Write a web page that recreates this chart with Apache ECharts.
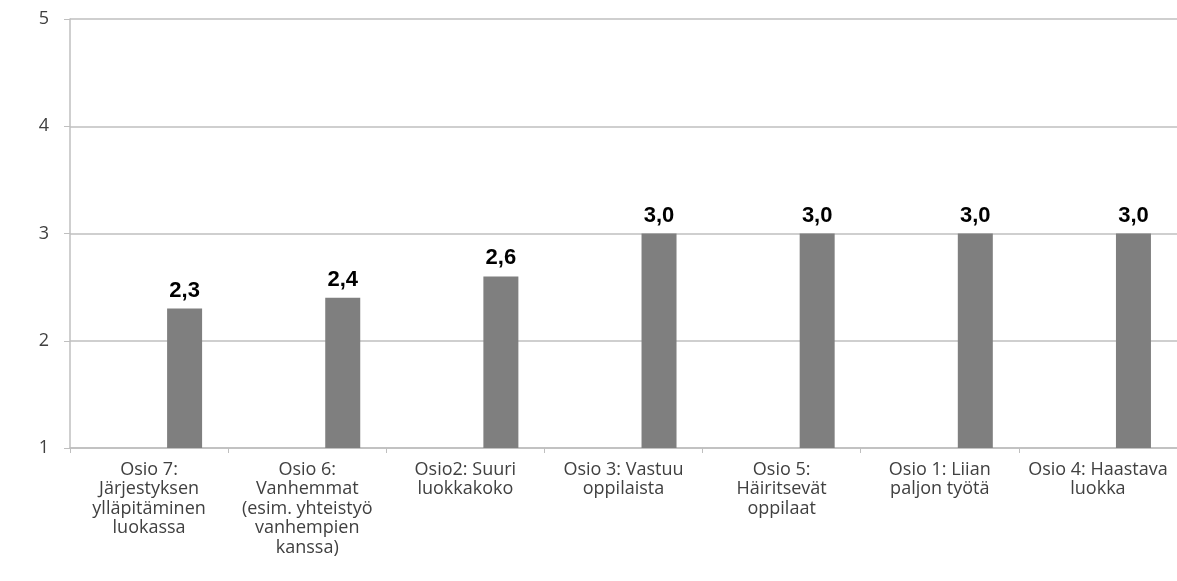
<!DOCTYPE html>
<html>
<head>
<meta charset="utf-8">
<script src="https://cdn.jsdelivr.net/npm/echarts@6/dist/echarts.min.js"></script>
<style>
  html, body { margin: 0; padding: 0; background: #fff; }
  #chart { width: 1177px; height: 581px; }
</style>
</head>
<body>
<div id="chart"></div>
<script>
// Osiot ja keskiarvot
const categories = [
  'Osio 7:\nJärjestyksen\nylläpitäminen\nluokassa',
  'Osio 6:\nVanhemmat\n(esim. yhteistyö\nvanhempien\nkanssa)',
  'Osio2: Suuri\nluokkakoko',
  'Osio 3: Vastuu\noppilaista',
  'Osio 5:\nHäiritsevät\noppilaat',
  'Osio 1: Liian\npaljon työtä',
  'Osio 4: Haastava\nluokka'
];
const averages = [2.3, 2.4, 2.6, 3.0, 3.0, 3.0, 3.0];
// empty companion series that keeps its slot on the left of each category
const emptySlot = ['-', '-', '-', '-', '-', '-', '-'];
const yTicks = [1, 2, 3, 4, 5];

const chart = echarts.init(document.getElementById('chart'));
const axisGrey = '#bfbfbf';
const textGrey = '#404040';
const labelFont = "'Open Sans', 'DejaVu Sans', sans-serif";

chart.setOption({
  animation: false,
  backgroundColor: '#ffffff',
  grid: { left: 70, right: 0, top: 19, bottom: 133, containLabel: false },
  xAxis: {
    type: 'category',
    data: categories,
    boundaryGap: true,
    axisLine: { show: true, lineStyle: { color: axisGrey, width: 1.5 } },
    axisTick: { show: true, length: 5, lineStyle: { color: axisGrey } },
    axisLabel: {
      interval: 0,
      margin: 12,
      color: textGrey,
      fontFamily: labelFont,
      fontSize: 18,
      lineHeight: 19.5,
      align: 'center'
    },
    splitLine: { show: false }
  },
  yAxis: {
    type: 'value',
    min: yTicks[0],
    max: yTicks[yTicks.length - 1],
    interval: 1,
    axisLine: { show: true, lineStyle: { color: axisGrey, width: 1.5 } },
    axisTick: { show: true, length: 6, lineStyle: { color: axisGrey } },
    axisLabel: {
      margin: 21,
      color: textGrey,
      fontFamily: labelFont,
      fontSize: 18,
      formatter: v => String(v)
    },
    splitLine: { show: true, lineStyle: { color: axisGrey, width: 1.5 } }
  },
  series: [
    {
      type: 'bar',
      data: emptySlot,
      barWidth: 35,
      barGap: '103%',
      itemStyle: { color: '#7f7f7f' }
    },
    {
      type: 'bar',
      data: averages,
      barWidth: 35,
      itemStyle: { color: '#7f7f7f' },
      label: {
        show: true,
        position: 'top',
        distance: 7,
        color: '#000000',
        fontFamily: "'Liberation Sans', Arial, sans-serif",
        fontWeight: 'bold',
        fontSize: 22,
        formatter: p => p.value.toFixed(1).replace('.', ',')
      }
    }
  ]
});
</script>
</body>
</html>
